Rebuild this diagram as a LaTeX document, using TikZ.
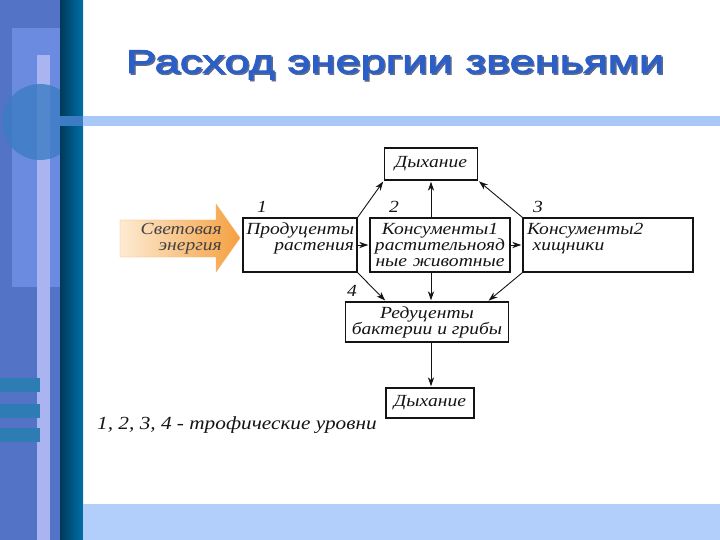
\documentclass[tikz,border=0pt]{standalone}
\usepackage{fontspec}
\setmainfont{Liberation Serif}
\newfontfamily\diagfont[FakeStretch=1.15]{Liberation Serif}
\newfontfamily\titlefont[FakeStretch=1.37,FakeBold=2.5]{Liberation Sans}
\usepackage{xcolor}
\definecolor{titleblue}{HTML}{2C5EC8}
\definecolor{titleshade}{HTML}{5A6A90}
\definecolor{strip}{HTML}{5273C6}
\definecolor{striplight}{HTML}{6A8BE0}
\definecolor{stripline}{HTML}{A9B4F0}
\definecolor{stripdot}{HTML}{3C7CC4}
\definecolor{tealdark}{HTML}{003A5A}
\definecolor{teal}{HTML}{0070A8}
\definecolor{tealbar}{HTML}{2E7CB4}
\definecolor{barblue}{HTML}{A8C8F8}
\definecolor{footblue}{HTML}{B2CEFA}
\definecolor{sunlight}{HTML}{FDEBD3}
\definecolor{sunorange}{HTML}{F5A040}
\definecolor{ink}{HTML}{141414}
\usepackage{tikz}
\usetikzlibrary{positioning,calc,arrows.meta}

\begin{document}
\begin{tikzpicture}[x=1pt,y=-1pt,
  diag/.style={font=\diagfont\itshape\fontsize{17}{16}\selectfont,text=ink},
  bx/.style={diag,draw=ink,line width=1.4pt,inner sep=2pt},
  lvl/.style={diag,inner sep=0pt},
  flow/.style={-{Stealth[length=3.2mm,width=2.2mm]},ink,line width=0.9pt,shorten >=1pt}]
  \useasboundingbox (0,0) rectangle (720,540);
  \fill[white] (0,0) rectangle (720,540);
  \fill[strip] (0,0) rectangle (60,540);
  \fill[striplight] (12,28) rectangle (60,287);
  \fill[stripline] (37,55) rectangle (50,540);
  \begin{scope}
    \clip (0,0) rectangle (60,540);
    \fill[stripdot,opacity=0.8] (40,122) circle (38);
  \end{scope}
  \foreach \y in {378,404,428}
    \fill[tealbar] (0,\y) rectangle (40,\y+14);
  \shade[left color=tealdark,right color=teal] (60,0) rectangle (83,540);
  \fill[barblue] (83,116) rectangle (720,126);
  \fill[stripdot] (60,116) rectangle (83,126);
  \fill[footblue] (83,504) rectangle (720,540);

  \node[font=\titlefont\fontsize{33}{36}\selectfont,text=titleshade] at (396.5,66.5) {Расход энергии звеньями};
  \node[font=\titlefont\fontsize{33}{36}\selectfont,text=titleblue] (title) at (395,65) {Расход энергии звеньями};

  \shade[left color=sunlight,right color=sunorange,draw=sunorange!80,line width=0.4pt]
    (120,220) -- (216,220) -- (216,204) -- (240,238) -- (216,272) -- (216,257) -- (120,257) -- cycle;
  \node[diag,align=right,text=ink!80,inner sep=0pt,anchor=east] (light) at (222,239) {Световая\\энергия};

  \node[bx,minimum width=93,minimum height=32] (resptop) at (431,164) {Дыхание};
  \node[bx,minimum width=114,minimum height=54,text width=108,align=right] (prod) at (300,245) {Продуценты\\растения\\\mbox{}};
  \node[bx,minimum width=140,minimum height=54,text width=134,align=center] (cons1) at (440,245) {Консументы1\\растительнояд\\ные животные};
  \node[bx,minimum width=170,minimum height=54,text width=162,align=left] (cons2) at (608,245) {Консументы2\\\ хищники\\\mbox{}};
  \node[bx,minimum width=163,minimum height=40,align=center] (red) at (427,322) {Редуценты\\бактерии и грибы};
  \node[bx,minimum width=88,minimum height=30] (respbot) at (430,403) {Дыхание};

  \node[lvl] (n1) at (262,207) {1};
  \node[lvl] (n2) at (394,207) {2};
  \node[lvl] (n3) at (538,207) {3};
  \node[lvl] (n4) at (352,291) {4};
  \node[lvl,anchor=west,font=\diagfont\itshape\fontsize{18.5}{18}\selectfont] (legend) at (97,425) {1, 2, 3, 4 - трофические уровни};

  \draw[flow] (prod) -- (cons1);
  \draw[flow] (cons1) -- (cons2);
  \draw[flow] (prod.north east) -- (resptop.south west);
  \draw[flow] (cons1.north -| resptop.south) -- (resptop.south);
  \draw[flow] (cons2.north west) -- (resptop.south east);
  \draw[flow] (prod.south east) -- ($(red.north west)!0.25!(red.north east)$);
  \draw[flow] (cons1.south -| resptop.south) -- (red.north -| resptop.south);
  \draw[flow] (cons2.south west) -- ($(red.north west)!0.87!(red.north east)$);
  \draw[flow] (red.south -| resptop.south) -- (respbot.north -| resptop.south);
\end{tikzpicture}
\end{document}
